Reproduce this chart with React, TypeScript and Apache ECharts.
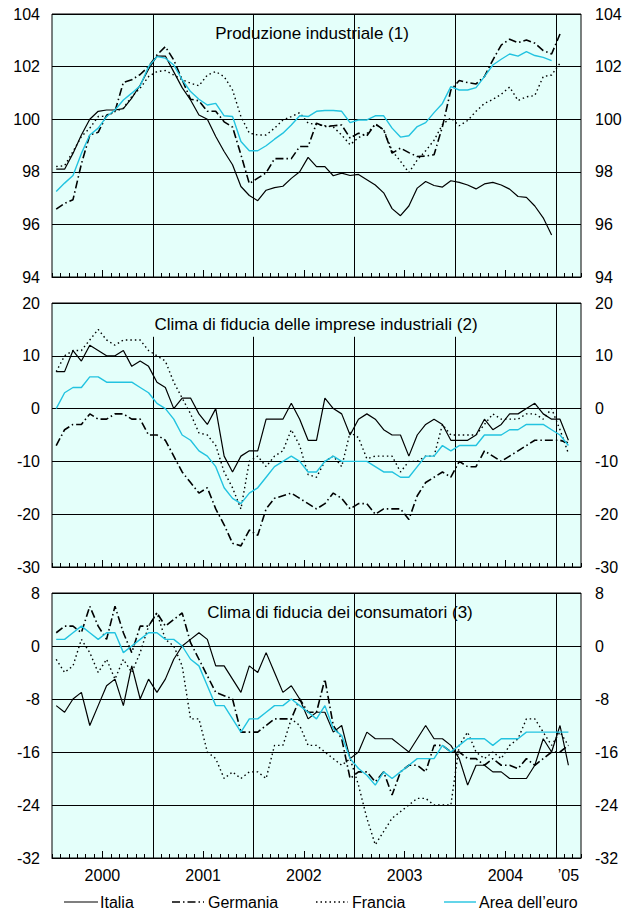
import React, { useEffect, useRef } from "react";
import * as echarts from "echarts";

// ---------- data ----------
const yearLabels = ["2000", "2001", "2002", "2003", "2004", "\u201905"];
const monthSpan = 63; // Jan 2000 .. Mar 2005

const titles = [
  "Produzione industriale (1)",
  "Clima di fiducia delle imprese industriali (2)",
  "Clima di fiducia dei consumatori (3)",
];
const seriesNames = ["Italia", "Germania", "Francia", "Area dell\u2019euro"];

const prodTicks = { min: 94, max: 104, step: 2 };
const impreseTicks = { min: -30, max: 20, step: 10 };
const consTicks = { min: -32, max: 8, step: 8 };

const prodItalia = [98.1, 98.1, 98.7, 99.4, 100.0, 100.3, 100.35, 100.35, 100.4, 100.8, 101.3, 101.9, 102.4, 102.4, 101.8, 101.2, 100.73, 100.16, 100.0, 99.34, 98.77, 98.27, 97.44, 97.1, 96.9, 97.3, 97.4, 97.45, 97.75, 98.0, 98.55, 98.2, 98.2, 97.85, 97.95, 97.86, 97.9, 97.7, 97.5, 97.2, 96.6, 96.33, 96.7, 97.38, 97.63, 97.48, 97.42, 97.66, 97.6, 97.5, 97.35, 97.54, 97.6, 97.5, 97.34, 97.06, 97.03, 96.7, 96.25, 95.6];
const prodGermania = [96.58, 96.8, 96.94, 98.3, 99.4, 99.5, 100.15, 100.3, 101.4, 101.5, 101.7, 102.0, 102.44, 102.76, 102.25, 101.5, 100.76, 100.7, 100.3, 100.3, 99.9, 99.7, 98.65, 97.55, 97.76, 97.96, 98.5, 98.5, 98.5, 98.96, 98.96, 99.85, 99.72, 99.75, 99.78, 99.28, 99.47, 99.37, 99.82, 99.6, 98.71, 98.9, 98.73, 98.58, 98.6, 98.65, 99.72, 101.11, 101.47, 101.39, 101.34, 101.62, 102.25, 102.82, 103.04, 102.91, 103.01, 102.89, 102.61, 102.48, 103.24];
const prodFrancia = [98.2, 98.23, 98.77, 99.34, 99.66, 100.1, 100.12, 100.29, 100.42, 100.86, 101.18, 101.62, 101.81, 101.85, 101.68, 101.5, 101.37, 101.27, 101.68, 101.81, 101.62, 101.11, 100.1, 99.47, 99.4, 99.4, 99.66, 99.97, 100.1, 100.25, 99.85, 99.8, 99.75, 99.7, 99.4, 99.03, 99.3, 99.45, 99.8, 99.6, 98.8, 98.4, 97.97, 98.45, 98.8, 99.2, 99.8, 100.05, 99.75, 99.95, 100.3, 100.6, 100.75, 100.95, 101.22, 100.71, 100.85, 100.9, 101.62, 101.68, 102.13];
const prodEuro = [97.25, 97.57, 97.86, 98.7, 99.4, 99.66, 100.1, 100.35, 100.73, 100.99, 101.27, 102.0, 102.38, 102.32, 102.06, 101.5, 101.05, 100.76, 100.54, 100.6, 100.13, 100.1, 99.15, 98.8, 98.8, 98.99, 99.24, 99.47, 99.78, 100.13, 100.1, 100.3, 100.33, 100.33, 100.3, 99.87, 99.97, 99.97, 100.13, 100.13, 99.66, 99.32, 99.37, 99.72, 99.87, 100.25, 100.6, 101.24, 101.11, 101.11, 101.2, 101.62, 102.06, 102.28, 102.48, 102.4, 102.57, 102.42, 102.35, 102.23];

const impItalia = [7, 7, 11, 9, 12, 11, 10, 10, 11, 8, 9, 8, 5, 4, 0, 2, 2, -1, -3, 0, -9, -12, -9, -8, -8, -2, -2, -2, 1, -2, -6, -6, 2, 0, -1, -5, -2, -1, -2, -4, -5, -5, -9, -5, -3, -2, -3, -6, -6, -6, -5, -2, -4, -3, -1, -1, 0, 1, -1, -2, -2, -6];
const impGermania = [-7, -4, -3, -3, -1, -2, -2, -1, -1, -2, -2, -5, -5, -6, -9, -12, -14, -16, -15, -19, -22, -25.5, -26, -23, -24, -19, -17, -16.5, -16, -17, -18, -19, -18, -16, -17, -19, -18, -18, -20, -19, -19, -19, -21, -16.5, -14, -13, -12, -13, -10, -11, -11, -8, -9, -10, -9, -8, -7, -6, -6, -6, -6, -6.5];
const impFrancia = [7, 10, 11, 11, 13, 15, 13, 12, 13, 13, 13, 11, 10, 9, 5, 2, -1, -4.6, -5, -7, -12, -15, -19, -10, -9, -11, -9, -8, -4, -7, -12.5, -13, -10, -9, -11, -4.5, -5.5, -9.5, -9, -9, -9, -12, -10, -10, -9, -9, -3, -5, -5, -5, -5, -3, -1, -2, -2, -2, -1, -1, -2, 0, -4, -8.5];
const impEuro = [0, 3, 4, 4, 6, 6, 5, 5, 5, 5, 4, 3, 1, 0, -2, -5, -6, -8, -9, -11, -15, -17, -18, -16, -15, -13, -11, -10, -9, -10, -12, -12, -10, -9, -10, -10, -10, -10, -11, -12, -12, -13, -13, -11, -9, -9, -7, -8, -7, -7, -7, -5, -5, -5, -4, -4, -3, -3, -3, -4, -5, -7];

const conItalia = [-9, -10, -8, -7, -12, -9, -6, -5, -9, -3, -8, -5, -7, -5, -2, 0, 1, 2, 1, -3, -3, -5, -7, -3, -4, -1, -4, -7, -6, -8, -11, -10, -10, -13, -12, -17, -16, -13, -14, -14, -14, -15, -16, -14, -12, -14, -14, -15, -17, -21, -18, -18, -19, -19, -20, -20, -20, -18, -14, -16, -12, -18];
const conGermania = [2, 3, 3, 2, 6, 3, 1, 6, 2, -1, 3, 3, 5, 3, 4, 5, 0.5, -2, -4.5, -7, -7.5, -8, -13, -13, -13, -12, -11, -11, -11, -8, -10, -10, -5, -12, -14, -20, -19, -19, -20.5, -19, -22.5, -19, -18, -18, -19, -15, -15, -16, -16, -17, -17, -18, -17, -18, -18, -18.5, -17, -18, -17, -16, -16, -15];
const conFrancia = [-2, -4, -3, 1, -1, -4, -2, -5, -2, -4, -1, 3, 5, 1, 0, -3, -11, -11, -16, -17, -20, -19, -20, -19, -19, -20, -15, -15, -11, -12, -15, -15, -16, -17, -18, -17, -21, -26, -30, -28, -26, -25, -24, -23, -23, -24, -24, -24, -15, -13, -16, -17, -16, -17, -15, -14, -11, -11, -13, -15, -13, -15];
const conEuro = [1, 1, 2, 3, 2, 1, 2, 2, -1, 0, 1, 2, 2, 1, 1, 0, -2, -3, -6, -9, -9, -11, -13, -11, -11, -10, -9, -9, -8, -9, -10, -11, -9, -12.5, -13.5, -17, -18.5, -19.5, -21, -19, -20, -19, -18, -17, -17, -17, -15, -16, -15, -14, -14, -14, -15, -14, -14, -14, -13, -13, -13, -13, -13, -13];

// ---------- styling / layout ----------
const FONT = '"Liberation Sans", Arial, Helvetica, sans-serif';
const BG = "#E4FFFA";
const CYAN = "#22C3E0";
const GRID_LEFT = 52;
const GRID_WIDTH = 529;
const GRID_TOPS = [14, 303, 593];
const GRID_HEIGHTS = [263, 264, 265];

const lineStyles: any[] = [
  { color: "#000", width: 1.2, type: "solid" },
  { color: "#000", width: 1.6, type: [8, 3, 1.5, 3] },
  { color: "#000", width: 1.4, type: [1.5, 3] },
  { color: CYAN, width: 1.4, type: "solid" },
];

function buildOption() {
  const panels = [
    { ticks: prodTicks, data: [prodItalia, prodGermania, prodFrancia, prodEuro], titleX: 312, titleY: 33, lineTop: null as null | number },
    { ticks: impreseTicks, data: [impItalia, impGermania, impFrancia, impEuro], titleX: 316, titleY: 324, lineTop: 13.6 },
    { ticks: consTicks, data: [conItalia, conGermania, conFrancia, conEuro], titleX: 340, titleY: 612, lineTop: null as null | number },
  ];

  const midYears = yearLabels.slice(0, 5).map((_, k) => k * 12 + 6);
  const labelPos = [...midYears, 61.5];
  const yearBounds = yearLabels.slice(1).map((_, k) => (k + 1) * 12);

  const grid: any[] = [];
  const xAxis: any[] = [];
  const yAxis: any[] = [];
  const series: any[] = [];
  const graphic: any[] = [];

  panels.forEach((p, pi) => {
    grid.push({
      left: GRID_LEFT,
      top: GRID_TOPS[pi],
      width: GRID_WIDTH,
      height: GRID_HEIGHTS[pi],
      show: true,
      backgroundColor: BG,
      borderColor: "#000",
      borderWidth: 1,
    });
    xAxis.push({
      type: "value",
      gridIndex: pi,
      position: "bottom",
      offset: 0,
      min: 0,
      max: monthSpan,
      interval: 1,
      axisLine: { show: true, onZero: false, lineStyle: { color: "#000", width: 1 } },
      axisTick: { show: true, inside: true, length: 4, lineStyle: { color: "#000", width: 1 } },
      axisLabel: { show: false },
      splitLine: { show: false },
    });
    xAxis.push({
      type: "value",
      gridIndex: pi,
      position: "bottom",
      offset: 0,
      min: 0,
      max: monthSpan,
      axisLine: { show: false, onZero: false },
      axisTick: { show: true, inside: true, length: 7, customValues: midYears, lineStyle: { color: "#000", width: 1 } },
      axisLabel:
        pi === 2
          ? {
              show: true,
              customValues: labelPos,
              fontSize: 16,
              fontFamily: FONT,
              color: "#000",
              margin: 9,
              formatter: (v: number) => {
                const k = labelPos.findIndex((x) => Math.abs(x - v) < 0.01);
                return k >= 0 ? yearLabels[k] : "";
              },
            }
          : { show: false },
      splitLine: { show: false },
    });
    const yCommon = {
      type: "value",
      gridIndex: pi,
      min: p.ticks.min,
      max: p.ticks.max,
      interval: p.ticks.step,
      axisLine: { show: false },
      axisTick: { show: false },
    };
    yAxis.push({
      ...yCommon,
      position: "left",
      splitLine: { show: true, lineStyle: { color: "#000", width: 1 } },
      axisLabel: { fontSize: 16, fontFamily: FONT, color: "#000", margin: 12 },
    });
    yAxis.push({
      ...yCommon,
      position: "right",
      splitLine: { show: false },
      axisLabel: { fontSize: 16, fontFamily: FONT, color: "#000", margin: 14 },
    });

    p.data.forEach((vals, si) => {
      const s: any = {
        name: seriesNames[si],
        type: "line",
        xAxisIndex: pi * 2,
        yAxisIndex: pi * 2,
        data: vals.map((v, i) => [i + 0.5, v]),
        symbol: "none",
        silent: true,
        lineStyle: lineStyles[si],
        itemStyle: { color: lineStyles[si].color },
        z: 3 + si,
      };
      if (si === 0) {
        s.markLine = {
          silent: true,
          symbol: ["none", "none"],
          label: { show: false },
          lineStyle: { color: "#000", width: 1, type: "solid" },
          data: yearBounds.map((b, k) => [
            { coord: [b, p.ticks.min] },
            { coord: [b, p.lineTop !== null && k < 4 ? p.lineTop : p.ticks.max] },
          ]),
        };
      }
      series.push(s);
    });

    graphic.push({
      type: "text",
      x: p.titleX,
      y: p.titleY,
      z: 100,
      style: {
        text: titles[pi],
        font: `17px ${FONT}`,
        fill: "#000",
        textAlign: "center",
        textVerticalAlign: "middle",
        align: "center",
        verticalAlign: "middle",
      },
    });
  });

  // legend drawn as graphic items
  const legendY = 902;
  const legendItems = [
    { x1: 64, x2: 98, tx: 100 },
    { x1: 172, x2: 204, tx: 208 },
    { x1: 316, x2: 348, tx: 352 },
    { x1: 444, x2: 476, tx: 479 },
  ];
  legendItems.forEach((it, k) => {
    const ls = lineStyles[k];
    graphic.push({
      type: "line",
      shape: { x1: it.x1, y1: legendY, x2: it.x2, y2: legendY },
      style: {
        stroke: ls.color,
        lineWidth: ls.width,
        lineDash: Array.isArray(ls.type) ? ls.type : null,
      },
    });
    graphic.push({
      type: "text",
      x: it.tx,
      y: legendY,
      style: {
        text: seriesNames[k],
        font: `16px ${FONT}`,
        fill: "#000",
        textAlign: "left",
        textVerticalAlign: "middle",
        align: "left",
        verticalAlign: "middle",
      },
    });
  });

  return {
    animation: false,
    backgroundColor: "#fff",
    textStyle: { fontFamily: FONT },
    grid,
    xAxis,
    yAxis,
    series,
    graphic,
  };
}

export default function App() {
  const ref = useRef<HTMLDivElement>(null);
  useEffect(() => {
    if (!ref.current) return;
    const chart = echarts.init(ref.current, null, { renderer: "svg" });
    chart.setOption(buildOption() as any);
    return () => {
      chart.dispose();
    };
  }, []);
  return (
    <div
      ref={ref}
      style={{ position: "fixed", left: 0, top: 0, width: 626, height: 915, background: "#fff" }}
    />
  );
}
